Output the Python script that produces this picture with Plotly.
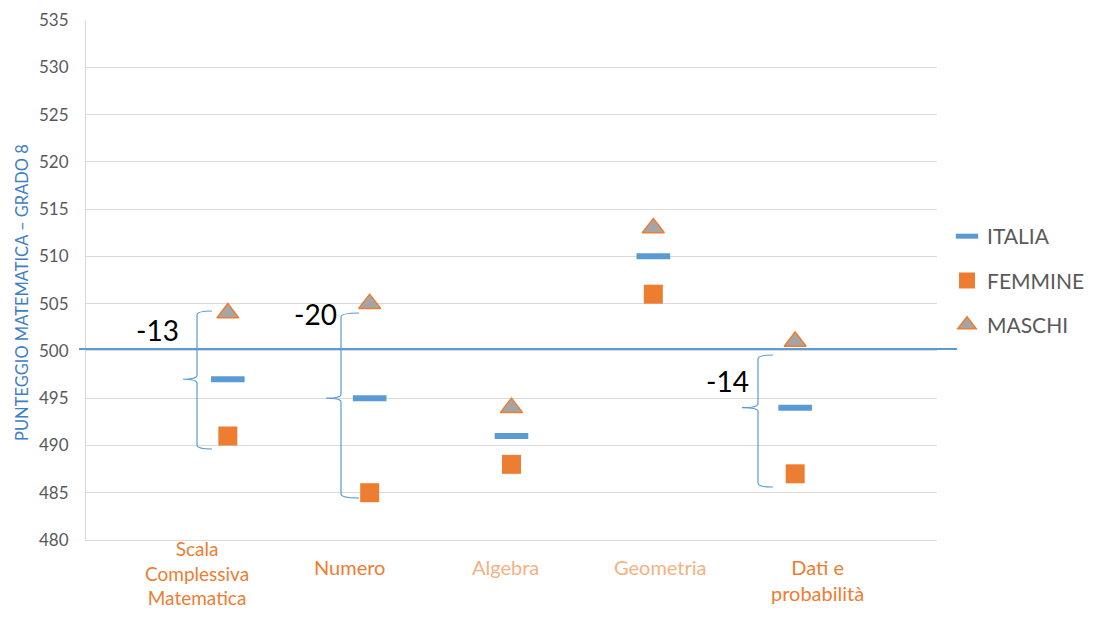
import plotly.graph_objects as go

# ---------------- data ----------------
categories = ["Scala<br>Complessiva<br>Matematica", "Numero", "Algebra", "Geometria", "Dati e<br>probabilità"]
italia = [497, 495, 491, 510, 494]
femmine = [491, 485, 488, 506, 487]
maschi = [504, 505, 494, 513, 501]
reference_value = 500
brace_categories = [0, 1, 4]  # categories with gap annotation

# ---------------- style ----------------
BLUE = "#5B9BD5"
ORANGE = "#ED7D31"
LIGHT_ORANGE = "#F4B183"
GRAY = "#A5A5A5"
TXT = "#595959"
FONT = "Lato, 'Open Sans', sans-serif"

# page body has an 8px margin: work in figure coordinates = screen - 8
OFF = 8
W, H = 1095 - 2 * OFF, 618 - 2 * OFF

xpos = [1, 2, 3, 4, 5]
label_x = [0.783, 1.861, 2.961, 4.047, 5.154]
label_colors = [ORANGE, ORANGE, LIGHT_ORANGE, LIGHT_ORANGE, ORANGE]
label_top = [549, 567, 567, 567, 567]  # screen px of first line centre
label_size = [19, 20, 20, 20, 20]

fig = go.Figure()

fig.add_trace(go.Scatter(
    x=xpos, y=italia, mode="markers", name="ITALIA", legendgroup="a",
    marker=dict(symbol="line-ew", size=24, line=dict(width=6, color=BLUE), color=BLUE),
    cliponaxis=False))
fig.add_trace(go.Scatter(
    x=xpos, y=femmine, mode="markers", name="FEMMINE", legendgroup="b",
    marker=dict(symbol="square", size=19, color=ORANGE, line=dict(width=0)),
    cliponaxis=False))
fig.add_trace(go.Scatter(
    x=xpos, y=maschi, mode="markers", name="MASCHI", legendgroup="c",
    marker=dict(symbol="triangle-up", size=19, color=GRAY, line=dict(width=1.5, color=ORANGE)),
    cliponaxis=False))

# plot geometry (screen pixels)
L, R, T, B = 86, 937, 20, 540
XMIN, XMAX = 0, 6
YMIN, YMAX = 480, 535


def px2x(px):
    return XMIN + (px - L) / (R - L) * (XMAX - XMIN)


def px2y(py):
    return YMAX - (py - T) / (B - T) * (YMAX - YMIN)


shapes = []
# reference line at 500
yref_paper = (reference_value + 0.2 - YMIN) / (YMAX - YMIN)
shapes.append(dict(type="line", xref="paper", yref="paper",
                   x0=(79 - L) / (R - L), x1=(957 - L) / (R - L),
                   y0=yref_paper, y1=yref_paper,
                   line=dict(color=BLUE, width=2)))

# brace geometry (screen px): vertical x, hook x, tip x, top y, bottom y
brace_geo = {
    0: (197, 212, 183, 311, 449),
    1: (341, 359, 326, 313, 498),
    4: (758, 773, 742, 355, 487),
}
label_geo = {0: (157, 330), 1: (315, 314), 4: (727, 381)}


def brace_path(xv, xr, xt, yt, yb, ytip):
    d = 4  # px curl
    X = px2x
    Y = px2y
    return (f"M {X(xr)},{Y(yt)} Q {X(xv)},{Y(yt)} {X(xv)},{Y(yt + d)} "
            f"L {X(xv)},{Y(ytip - d)} Q {X(xv)},{Y(ytip)} {X(xt)},{Y(ytip)} "
            f"Q {X(xv)},{Y(ytip)} {X(xv)},{Y(ytip + d)} "
            f"L {X(xv)},{Y(yb - d)} Q {X(xv)},{Y(yb)} {X(xr)},{Y(yb)}")


annotations = []
for i in brace_categories:
    xv, xr, xt, yt, yb = brace_geo[i]
    ytip = T + (YMAX - italia[i]) / (YMAX - YMIN) * (B - T)
    shapes.append(dict(type="path", xref="x", yref="y",
                       path=brace_path(xv, xr, xt, yt, yb, ytip),
                       line=dict(color=BLUE, width=1.2)))
    lx, ly = label_geo[i]
    annotations.append(dict(x=px2x(lx), y=px2y(ly), xref="x", yref="y",
                            text=f"{femmine[i] - maschi[i]}", showarrow=False,
                            font=dict(size=28, color="#000000", family=FONT)))

for i, cat in enumerate(categories):
    annotations.append(dict(x=label_x[i], xref="x", y=(B - label_top[i] + 14) / (B - T), yref="paper",
                            yanchor="top", xanchor="center", text=cat, showarrow=False, align="center",
                            font=dict(size=label_size[i], color=label_colors[i], family=FONT)))

annotations.append(dict(x=(22 - L) / (R - L), y=(B - 293) / (B - T), xref="paper", yref="paper",
                        xanchor="center", yanchor="middle",
                        text="PUNTEGGIO MATEMATICA – GRADO 8", textangle=-90, showarrow=False,
                        font=dict(size=16.5, color="#3E7EC4", family=FONT)))

fig.update_layout(
    width=W, height=H, autosize=False,
    margin=dict(l=L - OFF, r=W - (R - OFF), t=T - OFF, b=H - (B - OFF), autoexpand=False),
    paper_bgcolor="white", plot_bgcolor="white",
    font=dict(family=FONT, color=TXT),
    showlegend=True,
    legend=dict(x=(947 - L) / (R - L), y=0.623, xanchor="left", yanchor="top",
                font=dict(size=21, color=TXT, family=FONT),
                traceorder="grouped", tracegroupgap=14, bgcolor="rgba(0,0,0,0)"),
    xaxis=dict(range=[XMIN, XMAX], showgrid=False, zeroline=False, showticklabels=False,
               showline=True, linecolor="#D9D9D9", linewidth=1, ticks="", automargin=False),
    yaxis=dict(range=[YMIN, YMAX], dtick=5, tick0=480, showgrid=True, gridcolor="#D9D9D9",
               gridwidth=1, zeroline=False, showline=True, linecolor="#D9D9D9", linewidth=1,
               ticks="", ticklabelstandoff=13, automargin=False,
               tickfont=dict(size=17, color=TXT, family=FONT)),
    shapes=shapes,
    annotations=annotations,
)

fig.write_html("out.html")
